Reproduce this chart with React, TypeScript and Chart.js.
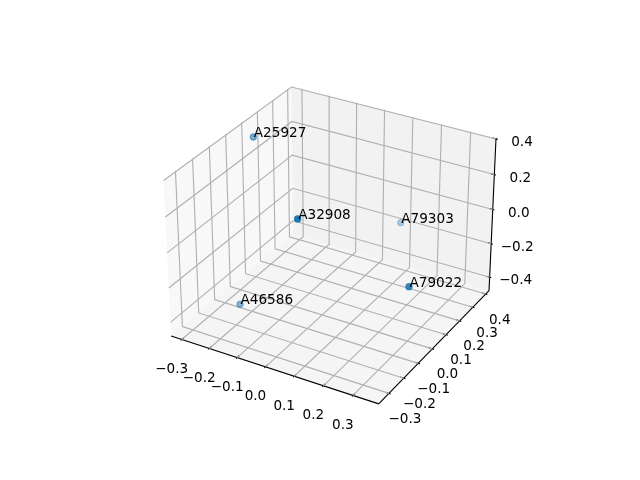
import React, { useEffect, useRef } from "react";
import { Chart, registerables } from "chart.js";

Chart.register(...registerables);

// Data
const names = ["A25927", "A32908", "A79303", "A79022", "A46586"];
const xs = [-0.2963, 0.0892, 0.0862, 0.3332, -0.2275];
const ys = [0.0977, -0.3165, 0.3817, -0.0661, -0.128];
const zs = [0.3429, 0.349, -0.1828, -0.0957, -0.4309];

const xTicks = [-0.3, -0.2, -0.1, 0.0, 0.1, 0.2, 0.3];
const yTicks = [-0.3, -0.2, -0.1, 0.0, 0.1, 0.2, 0.3, 0.4];
const zTicks = [-0.4, -0.2, 0.0, 0.2, 0.4];

// Pane bounds of the 3D box, in data units
const xBounds = [-0.339, 0.386];
const yBounds = [-0.368, 0.426];
const zBounds = [-0.481, 0.405];

// Camera (elev 30, azim -60), box half sizes and distance
const U = [0.866025, 0.5, 0];
const V = [-0.25, 0.433013, 0.866025];
const W = [0.433013, -0.75, 0.5];
const HALF = [0.5953, 0.5953, 0.4464];
const DIST = 10;

// Plane to pixel calibration
const PX = 1997.8;
const CX = 333;
const CY = 237.4;

const fmt = (v: number) => (v < 0 ? "\u2212" : "") + Math.abs(v).toFixed(1);

function toS(v: number, b: number[]) {
  return (2 * (v - b[0])) / (b[1] - b[0]) - 1;
}

function projS(sx: number, sy: number, sz: number) {
  const P = [sx * HALF[0], sy * HALF[1], sz * HALF[2]];
  const dot = (a: number[]) => a[0] * P[0] + a[1] * P[1] + a[2] * P[2];
  const c = dot(W);
  return { x: dot(U) / (DIST - c), y: dot(V) / (DIST - c), depth: c };
}

type Pt = { x: number; y: number };

function lineDs(data: Pt[], color: string) {
  return {
    type: "scatter" as const,
    showLine: true,
    data,
    borderColor: color,
    borderWidth: 1.11,
    pointRadius: 0,
    pointHoverRadius: 0,
    order: 1,
    fill: false,
    tension: 0,
  };
}

const GRID = "rgb(176,176,176)";
const AXIS = "#000000";
const OUT = 0.016;
const IN = 0.032;

function buildLines() {
  const out: any[] = [];
  for (const t of xTicks) {
    const s = toS(t, xBounds);
    out.push(lineDs([projS(s, -1, -1), projS(s, 1, -1), projS(s, 1, 1)], GRID));
    out.push(lineDs([projS(s, -1 - OUT, -1), projS(s, -1 + IN, -1)], AXIS));
  }
  for (const t of yTicks) {
    const s = toS(t, yBounds);
    out.push(lineDs([projS(1, s, -1), projS(-1, s, -1), projS(-1, s, 1)], GRID));
    out.push(lineDs([projS(1 + OUT, s, -1), projS(1 - IN, s, -1)], AXIS));
  }
  for (const t of zTicks) {
    const s = toS(t, zBounds);
    out.push(lineDs([projS(-1, -1, s), projS(-1, 1, s), projS(1, 1, s)], GRID));
    out.push(lineDs([projS(1 + OUT, 1, s), projS(1 - IN, 1, s)], AXIS));
  }
  out.push(lineDs([projS(-1, -1, -1), projS(1, -1, -1)], AXIS));
  out.push(lineDs([projS(1, -1, -1), projS(1, 1, -1)], AXIS));
  out.push(lineDs([projS(1, 1, -1), projS(1, 1, 1)], AXIS));
  return out;
}

const FONT = '13.6px "DejaVu Sans"';

const box3d = {
  id: "box3d",
  beforeDatasetsDraw(chart: any) {
    const { ctx, scales } = chart;
    const poly = (pts: Pt[], color: string) => {
      ctx.beginPath();
      pts.forEach((p, i) => {
        const px = scales.x.getPixelForValue(p.x);
        const py = scales.y.getPixelForValue(p.y);
        if (i === 0) ctx.moveTo(px, py);
        else ctx.lineTo(px, py);
      });
      ctx.closePath();
      ctx.fillStyle = color;
      ctx.fill();
    };
    ctx.save();
    poly([projS(-1, -1, -1), projS(-1, 1, -1), projS(-1, 1, 1), projS(-1, -1, 1)], "rgba(242,242,242,0.5)");
    poly([projS(-1, 1, -1), projS(1, 1, -1), projS(1, 1, 1), projS(-1, 1, 1)], "rgba(230,230,230,0.5)");
    poly([projS(-1, -1, -1), projS(1, -1, -1), projS(1, 1, -1), projS(-1, 1, -1)], "rgba(236,236,236,0.5)");
    ctx.restore();
  },
  afterDatasetsDraw(chart: any) {
    const { ctx, scales } = chart;
    const put = (p: Pt, dx: number, dy: number, text: string, align: CanvasTextAlign, base: CanvasTextBaseline) => {
      ctx.textAlign = align;
      ctx.textBaseline = base;
      ctx.fillText(text, scales.x.getPixelForValue(p.x) + dx, scales.y.getPixelForValue(p.y) + dy);
    };
    ctx.save();
    ctx.font = FONT;
    ctx.fillStyle = "#000000";
    xTicks.forEach((t) => put(projS(toS(t, xBounds), -1, -1), -10, 30, fmt(t), "center", "middle"));
    yTicks.forEach((t, i) => put(projS(1, toS(t, yBounds), -1), 16 - (2 * i) / (yTicks.length - 1), 26, fmt(t), "center", "middle"));
    zTicks.forEach((t) => put(projS(1, 1, toS(t, zBounds)), 26, 3.5, fmt(t), "center", "middle"));
    names.forEach((n, i) => put(pointOf(i), 0.5, 0, n, "left", "alphabetic"));
    ctx.restore();
  },
};

function pointOf(i: number) {
  return projS(toS(xs[i], xBounds), toS(ys[i], yBounds), toS(zs[i], zBounds));
}

export default function App() {
  const ref = useRef<HTMLCanvasElement>(null);
  useEffect(() => {
    if (!ref.current) return;
    const pts = names.map((_, i) => pointOf(i));
    const depths = pts.map((p) => p.depth);
    const hi = Math.max(...depths);
    const lo = Math.min(...depths);
    const colors = depths.map(
      (d) => `rgba(31,119,180,${(1 - 0.68 * Math.pow((hi - d) / (hi - lo), 1.4)).toFixed(3)})`
    );
    const chart = new Chart(ref.current, {
      type: "scatter",
      data: {
        datasets: [
          {
            data: pts.map((p) => ({ x: p.x, y: p.y })),
            pointRadius: 3,
            pointHoverRadius: 3,
            pointBackgroundColor: colors,
            pointBorderColor: colors,
            pointBorderWidth: 1.3,
            showLine: false,
            order: 0,
          },
          ...buildLines(),
        ],
      },
      options: {
        animation: false,
        responsive: false,
        devicePixelRatio: 1,
        layout: { padding: 0, autoPadding: false },
        events: [],
        plugins: { legend: { display: false }, tooltip: { enabled: false }, title: { display: false } },
        scales: {
          x: { type: "linear", display: false, bounds: "data", min: -CX / PX, max: (640 - CX) / PX },
          y: { type: "linear", display: false, bounds: "data", min: (CY - 480) / PX, max: CY / PX },
        },
      },
      plugins: [box3d],
    } as any);
    return () => chart.destroy();
  }, []);
  return (
    <div style={{ position: "absolute", left: 0, top: 0, width: 640, height: 480, background: "#fff" }}>
      <canvas ref={ref} width={640} height={480} style={{ display: "block" }} />
    </div>
  );
}
